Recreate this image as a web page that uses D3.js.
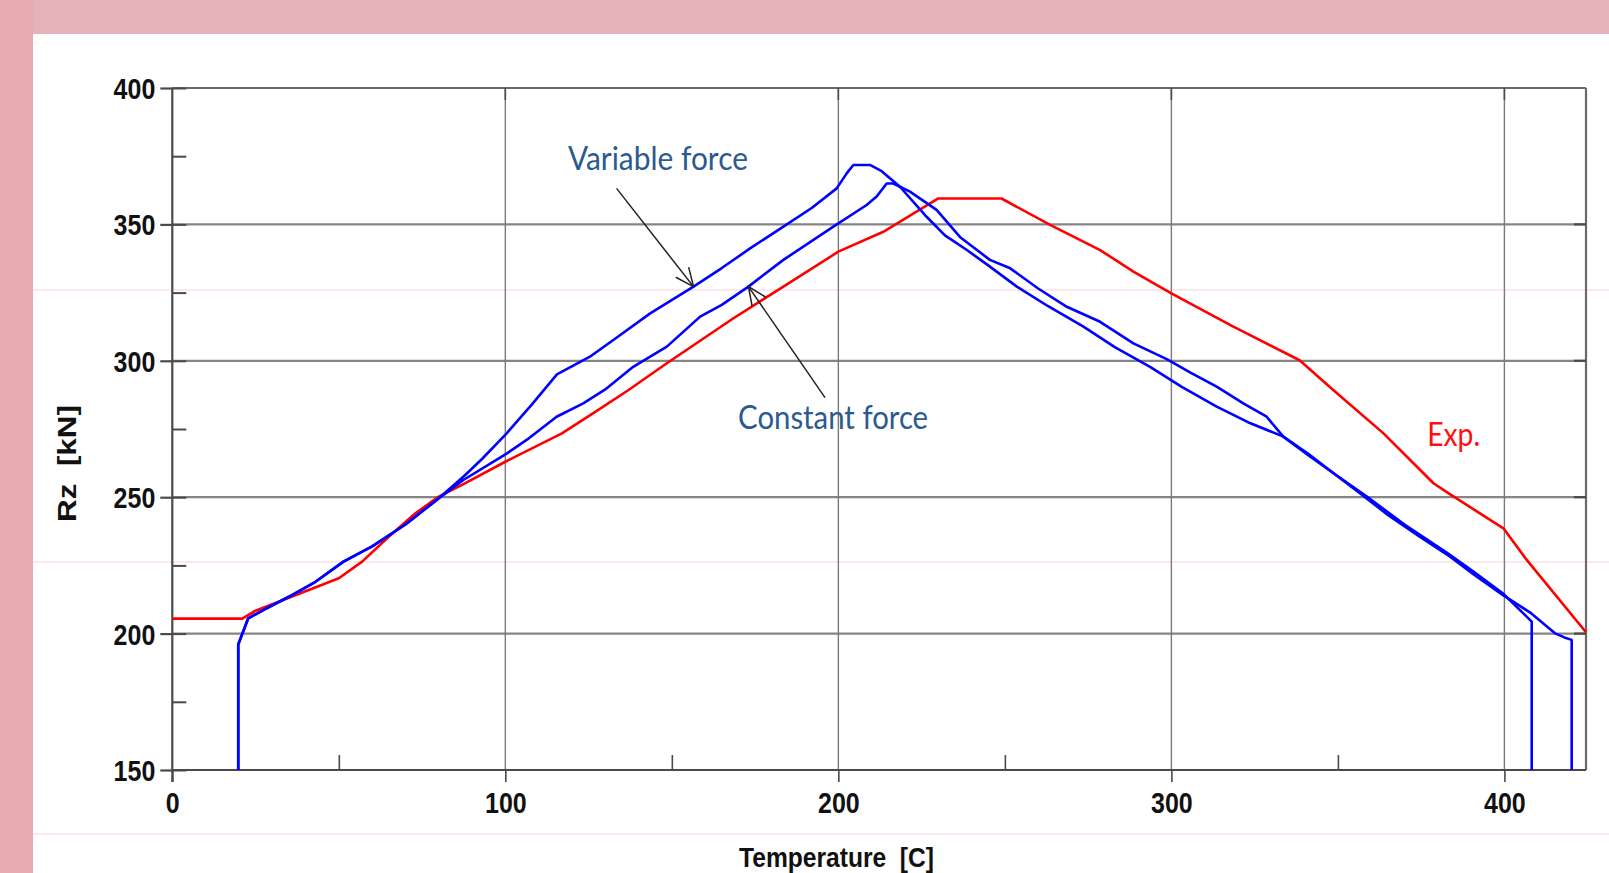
<!DOCTYPE html>
<html>
<head>
<meta charset="utf-8">
<script src="https://cdn.jsdelivr.net/npm/d3@7"></script>
<style>
  html, body { margin: 0; padding: 0; background: #ffffff; }
  svg { display: block; }
</style>
</head>
<body>
<svg id="chart" width="1609" height="873"></svg>
<script>
// Experimental curve (red): temperature [C] and reaction force Rz [kN]
const expTemp = [0, 21, 25, 50, 57, 65, 73, 80, 87, 100, 117, 127, 137, 148.5, 168.5, 183.5, 200, 213.5, 230, 249, 263.6, 278.6, 288.6, 300, 318.6, 338.5, 348.6, 363.7, 378.7, 383.5, 399.7, 406.7, 424.5];
const expRz   = [205.5, 205.5, 208.4, 220.3, 226.4, 235.5, 244.1, 250.2, 254.5, 263, 273.4, 281.3, 289.3, 299.1, 315.6, 327.2, 340, 347.3, 359.5, 359.5, 349.8, 340.6, 332.7, 324.7, 312.5, 300.2, 289.3, 273.4, 255.1, 251.2, 238.6, 227, 200.5];

// Simulation with variable force (blue)
const varTemp = [19.8, 19.8, 22.8, 27.3, 35, 43, 51.4, 60, 70, 79.4, 87.4, 93, 100.4, 108, 115.5, 125.4, 134, 143.5, 156.5, 165, 173.5, 183.5, 192, 199.5, 202.5, 204.5, 209.5, 213, 218.5, 226.5, 232, 238.6, 245, 253.6, 263, 273.6, 283, 293.6, 303, 313.6, 323, 333.6, 341, 348.7, 358.7, 370, 383, 391, 399.5, 408.2, 408.2];
const varRz   = [150, 196, 205.6, 208.6, 213.5, 219, 226.4, 232, 240, 249, 257.5, 264, 273.4, 284, 295, 301.5, 309, 317.4, 327.2, 334, 341.2, 349.2, 356, 363.2, 368.7, 371.8, 371.8, 369.5, 363.8, 352.8, 346, 340.6, 335, 327.2, 320, 312.5, 305, 297.8, 290.5, 283.2, 277.5, 272.2, 266, 258.8, 250.2, 240, 229.4, 222.5, 214.8, 204.4, 150];

// Simulation with constant force (blue)
const conTemp = [19.8, 19.8, 22.8, 27.3, 35, 43, 51.4, 60, 70, 79.4, 87.4, 100.4, 106.4, 115.4, 123.4, 130, 138.4, 148.5, 158.5, 165, 173, 183.5, 198.5, 208.5, 211.5, 214.5, 216.5, 221.5, 229.5, 236.5, 245.5, 251.6, 260, 268.6, 278.6, 288.6, 298.6, 306, 313.6, 321.6, 328.6, 333.6, 341, 348.7, 356.7, 365, 374, 383.7, 391, 399.7, 408, 415.2, 418, 420.2, 420.2];
const conRz   = [150, 196, 205.6, 208.6, 213.5, 219, 226.4, 232, 240, 249, 256.3, 266, 271, 279.5, 284.4, 289.5, 297.8, 305.2, 316.2, 320.5, 327.2, 337, 349.2, 357.1, 360.2, 365, 365, 362, 355.3, 345.4, 337, 333.9, 326.5, 319.8, 314.3, 306.4, 300.6, 295.5, 290.5, 284.4, 279.5, 272.2, 265.5, 258.8, 251.4, 243.5, 236, 228.2, 221.5, 214, 207.5, 200.1, 198.6, 197.7, 150];

// Axis ticks
const xMajor = [0, 100, 200, 300, 400];
const xMinor = [50, 150, 250, 350];
const yMajor = [150, 200, 250, 300, 350, 400];
const yMinor = [175, 225, 275, 325, 375];
const xGrid = [100, 200, 300, 400];
const yGrid = [200, 250, 300, 350];

// Annotations: label text, label anchor (data units) and arrow from -> to (data units)
const labelNames = ["Variable force", "Constant force", "Exp."];
const labelTemp  = [118.8, 169.9, 376.8];
const labelRz    = [369.9, 275.0, 268.8];
const arrowFromTemp = [133.4, 196.0];
const arrowFromRz   = [363.2, 286.5];
const arrowToTemp   = [156.5, 173.0];
const arrowToRz     = [327.2, 327.2];

const svg = d3.select("#chart");
const W = 1609, H = 873;

// slide background
svg.append("rect").attr("x", 0).attr("y", 0).attr("width", W).attr("height", H).attr("fill", "#ffffff");
svg.append("rect").attr("x", 0).attr("y", 0).attr("width", W).attr("height", 34).attr("fill", "#e4b2b9");
svg.append("rect").attr("x", 0).attr("y", 0).attr("width", 33).attr("height", H).attr("fill", "#e5abb1");
// faint table rules of the slide
[290, 562, 834].forEach(yy => {
  svg.append("line").attr("x1", 33).attr("x2", W).attr("y1", yy).attr("y2", yy)
    .attr("stroke", "#f3d3d8").attr("stroke-width", 1);
});

const x = d3.scaleLinear().domain([0, 424.5]).range([172.3, 1586]);
const y = d3.scaleLinear().domain([150, 400]).range([770, 88]);

const axisColor = "#4a4a4a";
const gridColor = "#858585";

// grid
const grid = svg.append("g");
grid.selectAll("line.h").data(yGrid).join("line")
  .attr("x1", x(0)).attr("x2", x(424.5)).attr("y1", d => y(d)).attr("y2", d => y(d))
  .attr("stroke", gridColor).attr("stroke-width", 2.2);
grid.selectAll("line.v").data(xGrid).join("line")
  .attr("x1", d => x(d)).attr("x2", d => x(d)).attr("y1", y(400)).attr("y2", y(150))
  .attr("stroke", "#7a7a7a").attr("stroke-width", 1.4);

// frame (top and right)
svg.append("line").attr("x1", x(0)).attr("x2", x(424.5)).attr("y1", y(400)).attr("y2", y(400))
  .attr("stroke", "#6a6a6a").attr("stroke-width", 2.2);
svg.append("line").attr("x1", x(424.5)).attr("x2", x(424.5)).attr("y1", y(400)).attr("y2", y(150))
  .attr("stroke", "#6a6a6a").attr("stroke-width", 2.2);
// inward ticks on the right and top edges
svg.append("g").selectAll("line").data(yGrid).join("line")
  .attr("x1", x(424.5) - 12).attr("x2", x(424.5)).attr("y1", d => y(d)).attr("y2", d => y(d))
  .attr("stroke", axisColor).attr("stroke-width", 2.2);
svg.append("g").selectAll("line").data(xGrid).join("line")
  .attr("x1", d => x(d)).attr("x2", d => x(d)).attr("y1", y(400)).attr("y2", y(400) + 12)
  .attr("stroke", axisColor).attr("stroke-width", 1.6);

const tickFont = "'Liberation Sans', Arial, sans-serif";

// y axis
const yAxis = svg.append("g").attr("transform", `translate(${x(0)},0)`)
  .call(d3.axisLeft(y).tickValues(yMajor).tickSize(12).tickPadding(5).tickFormat(d3.format("d")));
yAxis.select(".domain").attr("stroke", axisColor).attr("stroke-width", 2.2)
  .attr("d", `M0,${y(400)}V${y(150) + 12}`);
yAxis.selectAll(".tick line").attr("stroke", axisColor).attr("stroke-width", 2.2);
yAxis.selectAll(".tick text")
  .attr("font-family", tickFont).attr("font-weight", "bold").attr("font-size", 29)
  .attr("fill", "#111").attr("dy", "0.36em")
  .attr("textLength", d => String(d).length * 13.9).attr("lengthAdjust", "spacingAndGlyphs");
// inner ticks (major and minor) along the y axis
svg.append("g").attr("transform", `translate(${x(0)},0)`)
  .call(d3.axisRight(y).tickValues(yMajor.concat(yMinor)).tickSize(14).tickFormat(""))
  .call(g => g.select(".domain").remove())
  .selectAll(".tick line").attr("stroke", axisColor).attr("stroke-width", 2);

// x axis
const xAxis = svg.append("g").attr("transform", `translate(0,${y(150)})`)
  .call(d3.axisBottom(x).tickValues(xMajor).tickSize(12).tickPadding(10).tickFormat(d3.format("d")));
xAxis.select(".domain").attr("stroke", axisColor).attr("stroke-width", 2.2)
  .attr("d", `M${x(0)},0H${x(424.5)}`);
xAxis.selectAll(".tick line").attr("stroke", axisColor).attr("stroke-width", 1.6);
xAxis.selectAll(".tick text")
  .attr("font-family", tickFont).attr("font-weight", "bold").attr("font-size", 29)
  .attr("fill", "#111").attr("dy", "0.71em")
  .attr("textLength", d => String(d).length * 13.9).attr("lengthAdjust", "spacingAndGlyphs");
svg.append("g").attr("transform", `translate(0,${y(150)})`)
  .call(d3.axisTop(x).tickValues(xMinor).tickSize(15).tickFormat(""))
  .call(g => g.select(".domain").remove())
  .selectAll(".tick line").attr("stroke", axisColor).attr("stroke-width", 1.6);

// axis titles (double space kept)
svg.append("text").attr("x", 836.5).attr("y", 867).attr("text-anchor", "middle")
  .attr("xml:space", "preserve").style("white-space", "pre")
  .attr("font-family", tickFont).attr("font-weight", "bold").attr("font-size", 28).attr("fill", "#111")
  .attr("textLength", 195).attr("lengthAdjust", "spacingAndGlyphs")
  .text("Temperature  [C]");
svg.append("text").attr("transform", "translate(76,463.5) rotate(-90)").attr("text-anchor", "middle")
  .attr("xml:space", "preserve").style("white-space", "pre")
  .attr("font-family", tickFont).attr("font-weight", "bold").attr("font-size", 25).attr("fill", "#111")
  .attr("textLength", 117).attr("lengthAdjust", "spacingAndGlyphs")
  .text("Rz  [kN]");

// curves
const line = d3.line().x(d => x(d[0])).y(d => y(d[1]));
const series = [
  { t: expTemp, r: expRz, color: "#ff0000" },
  { t: varTemp, r: varRz, color: "#0000ff" },
  { t: conTemp, r: conRz, color: "#0000ff" }
];
svg.append("g").selectAll("path").data(series).join("path")
  .attr("d", s => line(s.t.map((t, i) => [t, s.r[i]])))
  .attr("fill", "none").attr("stroke", s => s.color).attr("stroke-width", 2.6)
  .attr("stroke-linejoin", "round");

// annotation arrows with open heads
const arrows = svg.append("g").attr("stroke", "#222").attr("stroke-width", 1.5).attr("fill", "none");
arrowFromTemp.forEach((t0, i) => {
  const x0 = x(t0), y0 = y(arrowFromRz[i]);
  const x1 = x(arrowToTemp[i]), y1 = y(arrowToRz[i]);
  arrows.append("line").attr("x1", x0).attr("y1", y0).attr("x2", x1).attr("y2", y1);
  const ang = Math.atan2(y1 - y0, x1 - x0);
  const len = 20, spread = 0.42;
  const p = [ang + Math.PI - spread, ang + Math.PI + spread].map(a => [x1 + len * Math.cos(a), y1 + len * Math.sin(a)]);
  arrows.append("path").attr("d", `M${p[0][0]},${p[0][1]}L${x1},${y1}L${p[1][0]},${p[1][1]}`);
});

// annotation labels
const labelColors = ["#2a5a8f", "#2a5a8f", "#ff1010"];
const labelWidths = [180, 190, 53];
labelNames.forEach((name, i) => {
  svg.append("text").attr("x", x(labelTemp[i])).attr("y", y(labelRz[i]))
    .attr("font-family", "Lato, 'Open Sans', sans-serif").attr("font-size", 32)
    .attr("fill", labelColors[i])
    .attr("textLength", labelWidths[i]).attr("lengthAdjust", "spacingAndGlyphs")
    .text(name);
});
</script>
</body>
</html>
